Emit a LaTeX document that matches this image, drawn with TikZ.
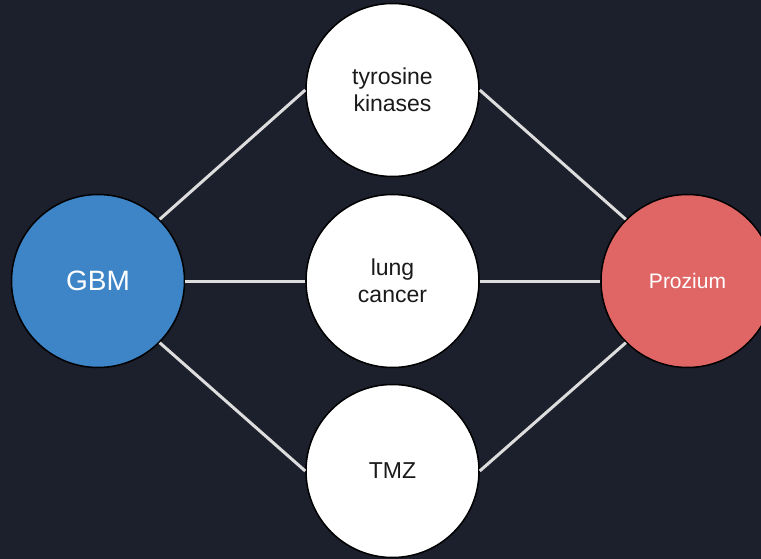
\documentclass[tikz,border=0pt]{standalone}
\usepackage{fontspec}
\setmainfont{Liberation Sans}
\definecolor{bg}{HTML}{1C202C}
\definecolor{gbmblue}{HTML}{3D85C6}
\definecolor{przred}{HTML}{E06666}
\definecolor{edgegray}{HTML}{DDDDDD}
\definecolor{txt}{HTML}{1A1A1A}
\begin{document}
\begin{tikzpicture}[x=1pt,y=-1pt,
  circ/.style={circle,draw=black,line width=1.5pt,minimum size=173pt,inner sep=0pt,align=center},
  midcirc/.style={circ,fill=white,text=txt,font=\fontsize{23}{27}\selectfont},
  link/.style={draw=edgegray,line width=3pt}]
\fill[bg] (0,0) rectangle (761,559);
\useasboundingbox (0,0) rectangle (761,559);
\begin{scope}
\clip (0,0) rectangle (761,559);
\node[circ,fill=gbmblue,text=white,font=\fontsize{28}{32}\selectfont] (gbm) at (98,281) {GBM};
\node[circ,fill=przred,text=white,font=\fontsize{21}{25}\selectfont] (prz) at (687.5,281) {Prozium};
\node[midcirc] (tyr) at (392.5,90) {tyrosine\\kinases};
\node[midcirc] (lung) at (392.5,281) {lung\\cancer};
\node[midcirc] (tmz) at (392.5,471) {TMZ};
\draw[link] (gbm.45) -- (tyr.west);
\draw[link] (gbm.east) -- (lung.west);
\draw[link] (gbm.-45) -- (tmz.west);
\draw[link] (tyr.east) -- (prz.135);
\draw[link] (lung.east) -- (prz.west);
\draw[link] (tmz.east) -- (prz.-135);
\end{scope}
\end{tikzpicture}
\end{document}
